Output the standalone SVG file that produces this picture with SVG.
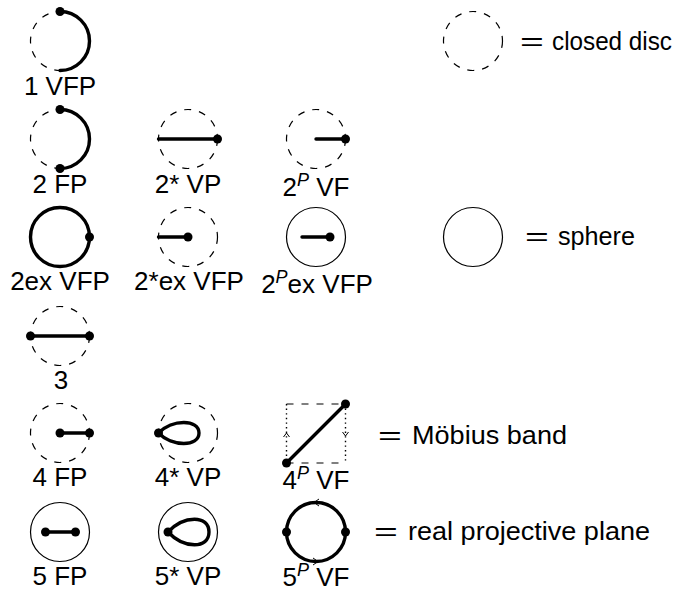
<svg xmlns="http://www.w3.org/2000/svg" width="685" height="591" viewBox="0 0 685 591">
<style>
.lbl{font-family:"Liberation Sans",Arial,sans-serif;font-size:26px;fill:#000;text-anchor:middle}
.leg{font-family:"Liberation Sans",Arial,sans-serif;font-size:25.5px;fill:#000}
.sup{font-size:18px;font-style:italic}
.dash{fill:none;stroke:#000;stroke-width:1.2;stroke-dasharray:7 8}
.thin{fill:none;stroke:#000;stroke-width:1.2}
.thick{fill:none;stroke:#000;stroke-width:3.4;stroke-linecap:round}
.dot{fill:#000}
.dotted{fill:none;stroke:#000;stroke-width:1.4;stroke-dasharray:1.4 3.2}
.tip{fill:none;stroke:#000;stroke-width:1}
</style>
<rect width="685" height="591" fill="#fff"/>

<g id="n1">
<circle class="dash" cx="60" cy="41" r="29.5"/>
<path class="thick" d="M60 11.5 A29.5 29.5 0 0 1 60 70.5"/>
<circle class="dot" cx="60" cy="11.5" r="4.5"/>
<text class="lbl" x="60" y="95">1 VFP</text>
</g>

<g id="legend-disc">
<circle class="dash" cx="473" cy="41" r="29.5"/>
<text class="leg" transform="translate(520,50) scale(1.6,1)">=</text>
<text class="leg" x="552" y="50" textLength="120" lengthAdjust="spacingAndGlyphs">closed disc</text>
</g>

<g id="n2">
<circle class="dash" cx="60" cy="139" r="29.5"/>
<path class="thick" d="M60 109.5 A29.5 29.5 0 0 1 60 168.5"/>
<circle class="dot" cx="60" cy="109.5" r="4.5"/>
<circle class="dot" cx="60" cy="168.5" r="4.5"/>
<text class="lbl" x="60" y="193">2 FP</text>
</g>

<g id="n2s">
<circle class="dash" cx="188" cy="139" r="29.5"/>
<line class="thick" x1="158.5" y1="139" x2="217.5" y2="139"/>
<circle class="dot" cx="217.5" cy="139" r="4.5"/>
<text class="lbl" x="188" y="193">2* VP</text>
</g>

<g id="n2p">
<circle class="dash" cx="316" cy="139" r="29.5"/>
<line class="thick" x1="316" y1="139" x2="345.5" y2="139"/>
<circle class="dot" cx="345.5" cy="139" r="4.5"/>
<text class="lbl" x="316" y="196">2<tspan class="sup" dy="-10">P</tspan><tspan dy="10"> VF</tspan></text>
</g>

<g id="n2ex">
<circle class="thick" cx="60" cy="237" r="29.5"/>
<circle class="dot" cx="89.5" cy="237" r="4.5"/>
<text class="lbl" x="60" y="290">2ex VFP</text>
</g>

<g id="n2sex">
<circle class="dash" cx="188" cy="237" r="29.5"/>
<line class="thick" x1="158.5" y1="237" x2="188" y2="237"/>
<circle class="dot" cx="188" cy="237" r="4.5"/>
<text class="lbl" x="189" y="290">2*ex VFP</text>
</g>

<g id="n2pex">
<circle class="thin" cx="316" cy="237" r="29.5"/>
<line class="thick" x1="302" y1="237" x2="330" y2="237"/>
<circle class="dot" cx="330" cy="237" r="4.5"/>
<text class="lbl" x="317" y="293">2<tspan class="sup" dy="-10">P</tspan><tspan dy="10">ex VFP</tspan></text>
</g>

<g id="legend-sphere">
<circle class="thin" cx="473" cy="237" r="29.5"/>
<text class="leg" transform="translate(525,245) scale(1.6,1)">=</text>
<text class="leg" x="558" y="245" textLength="77" lengthAdjust="spacingAndGlyphs">sphere</text>
</g>

<g id="n3">
<circle class="dash" cx="60" cy="336" r="29.5"/>
<line class="thick" x1="30.5" y1="336" x2="89.5" y2="336"/>
<circle class="dot" cx="30.5" cy="336" r="4.5"/>
<circle class="dot" cx="89.5" cy="336" r="4.5"/>
<text class="lbl" x="61" y="389">3</text>
</g>

<g id="n4">
<circle class="dash" cx="60" cy="433" r="29.5"/>
<line class="thick" x1="60" y1="433" x2="89.5" y2="433"/>
<circle class="dot" cx="60" cy="433" r="4.5"/>
<circle class="dot" cx="89.5" cy="433" r="4.5"/>
<text class="lbl" x="60" y="486">4 FP</text>
</g>

<g id="n4s">
<circle class="dash" cx="188" cy="433" r="29.5"/>
<path class="thick" d="M158.5 433 C172 419 199 419 199 433 C199 447 172 447 158.5 433 Z"/>
<circle class="dot" cx="158.5" cy="433" r="4.5"/>
<text class="lbl" x="188" y="486">4* VP</text>
</g>

<g id="n4p">
<line class="dash" x1="286.5" y1="404" x2="345.5" y2="404"/>
<line class="dash" x1="286.5" y1="463" x2="345.5" y2="463"/>
<line class="dotted" x1="286.5" y1="404" x2="286.5" y2="463"/>
<line class="dotted" x1="345.5" y1="404" x2="345.5" y2="463"/>
<path class="tip" d="M283.5 437 L286.5 433 L289.5 437"/>
<path class="tip" d="M342.5 432 L345.5 436 L348.5 432"/>
<line class="thick" x1="286.5" y1="463" x2="345.5" y2="404"/>
<circle class="dot" cx="286.5" cy="463" r="4.5"/>
<circle class="dot" cx="345.5" cy="404" r="4.5"/>
<text class="lbl" x="316" y="489">4<tspan class="sup" dy="-10">P</tspan><tspan dy="10"> VF</tspan></text>
</g>

<g id="legend-mobius">
<text class="leg" transform="translate(378,444) scale(1.6,1)">=</text>
<text class="leg" x="412" y="444" textLength="155" lengthAdjust="spacingAndGlyphs">Möbius band</text>
</g>

<g id="n5">
<circle class="thin" cx="60" cy="532" r="29.5"/>
<line class="thick" x1="45.5" y1="532" x2="75.5" y2="532"/>
<circle class="dot" cx="45.5" cy="532" r="4.5"/>
<circle class="dot" cx="75.5" cy="532" r="4.5"/>
<text class="lbl" x="60" y="585">5 FP</text>
</g>

<g id="n5s">
<circle class="thin" cx="188" cy="532" r="29.5"/>
<path class="thick" d="M168 532 C184 515 209 515 209 532 C209 549 184 549 168 532 Z"/>
<circle class="dot" cx="168" cy="532" r="4.5"/>
<text class="lbl" x="188" y="585">5* VP</text>
</g>

<g id="n5p">
<circle class="thick" cx="316" cy="532" r="29.5"/>
<path class="tip" d="M319 499 L314 502.5 L319 506"/>
<path class="tip" d="M313 558 L318 561.5 L313 565"/>
<circle class="dot" cx="286.5" cy="532" r="4.5"/>
<circle class="dot" cx="345.5" cy="532" r="4.5"/>
<text class="lbl" x="316" y="586">5<tspan class="sup" dy="-10">P</tspan><tspan dy="10"> VF</tspan></text>
</g>

<g id="legend-rp2">
<text class="leg" transform="translate(374,540) scale(1.6,1)">=</text>
<text class="leg" x="408" y="540" textLength="242" lengthAdjust="spacingAndGlyphs">real projective plane</text>
</g>

<g id="connectors"></g>
</svg>
